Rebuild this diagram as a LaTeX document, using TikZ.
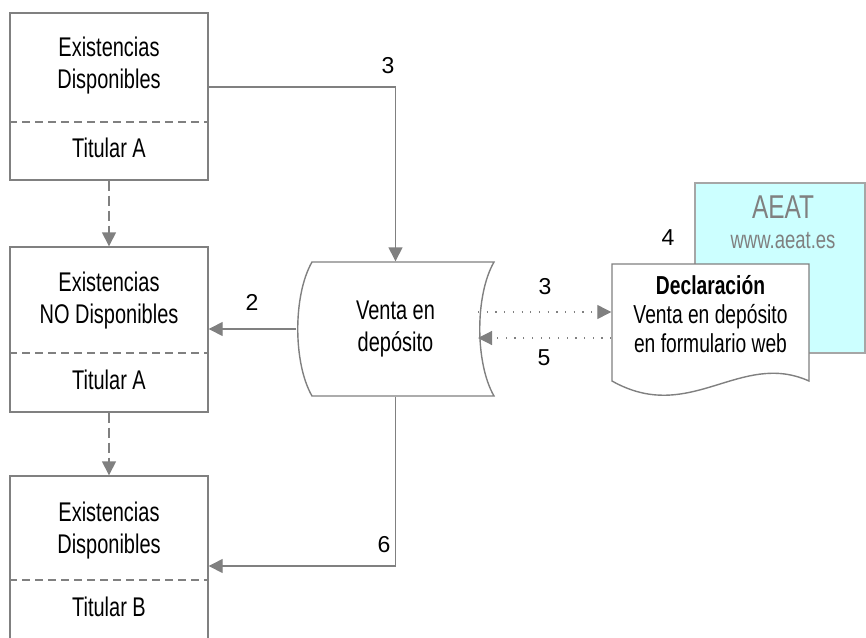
\documentclass[tikz,border=0pt]{standalone}
\usepackage{fontspec}
\setmainfont{Liberation Sans}[FakeStretch=0.74]
\newfontfamily\numfont{Liberation Sans}
\usetikzlibrary{arrows.meta}
\definecolor{linegray}{HTML}{808080}
\definecolor{aeatgray}{HTML}{A6A6A6}
\definecolor{aeatcyan}{HTML}{CCFFFF}
\begin{document}
\begin{tikzpicture}[x=1pt, y=-1pt, font={\fontsize{27}{32}\selectfont},
    color=linegray, text=black, line width=1.4pt,
    >={Triangle[length=14pt,width=14pt]},
    box/.style={draw=linegray, minimum width=198pt, minimum height=167pt, inner sep=0pt},
    divider/.style={dash pattern=on 8pt off 5pt},
    flow/.style={->},
    dflow/.style={->, dash pattern=on 10pt off 5pt},
    pflow/.style={->, line width=1.2pt, dash pattern=on 1.2pt off 7.5pt},
    num/.style={font={\numfont\fontsize{23}{26}\selectfont}},
    txt/.style={align=center}]
    \useasboundingbox (0,0) rectangle (866,637);
    \clip (0,0) rectangle (866,637);

    \draw node[box] (ed1) at (109,96.5) {};
    \draw node[box, minimum height=165pt] (ed2) at (109,329.5) {};
    \draw node[box, minimum height=169pt] (ed3) at (109,560.5) {};

    \draw node[txt] (ed1t) at (109,66) {Existencias\\Disponibles};
    \draw node (ed1b) at (109,148) {Titular A};
    \draw[divider] (ed1.west |- 0,122) -- (ed1.east |- 0,122);
    \draw node[txt] (ed2t) at (109,301) {Existencias\\NO Disponibles};
    \draw node (ed2b) at (109,380) {Titular A};
    \draw[divider] (ed2.west |- 0,353) -- (ed2.east |- 0,353);
    \draw node[txt] (ed3t) at (109,531) {Existencias\\Disponibles};
    \draw node (ed3b) at (109,607) {Titular B};
    \draw[divider] (ed3.west |- 0,580) -- (ed3.east |- 0,580);

    \draw[fill=white] (312,262) -- (494,262) .. controls (475,295) and (475,363) .. (494,396)
        -- (312,396) .. controls (293,363) and (293,295) .. (312,262) -- cycle;
    \draw node[txt, minimum width=197pt, minimum height=134pt] (venta) at (395.5,329) {Venta en\\depósito};

    \draw node[draw=aeatgray, fill=aeatcyan, minimum width=170pt, minimum height=170pt] (aeat) at (780,268) {};
    \draw node[text=linegray, font={\fontsize{33}{36}\selectfont}] (aeatt) at (783,207) {AEAT};
    \draw node[text=linegray, font={\fontsize{25}{28}\selectfont}] (aeatw) at (783,241) {www.aeat.es};

    \draw[fill=white] (612,264) -- (809,264) -- (809,381) .. controls (740,350) and (690,425) .. (612,381) -- cycle;
    \draw node[txt, minimum width=197pt, font={\fontsize{26}{29}\selectfont}] (decl) at (710.5,314)
        {\textbf{Declaración}\\Venta en depósito\\en formulario web};

    \coordinate (c3) at (395.5,87);
    \coordinate (c6) at (395.5,566);
    \coordinate (v3) at (478,312);
    \coordinate (v5) at (478,338);
    \draw[flow] (ed1.east |- c3) -- (c3) -- (venta.north);
    \draw[flow] (venta.west) -- (venta.west -| ed2.east);
    \draw[flow] (venta.south) -- (c6) -- (c6 -| ed3.east);
    \draw[dflow] (ed1.south) -- (ed2.north);
    \draw[dflow] (ed2.south) -- (ed3.north);
    \draw[pflow] (v3) -- (v3 -| decl.west);
    \draw[pflow] (v5 -| decl.west) -- (v5);

    \draw node[num] (n3a) at (388,66) {3};
    \draw node[num] (n2) at (252,302) {2};
    \draw node[num] (n6) at (384,545) {6};
    \draw node[num] (n3b) at (545,287) {3};
    \draw node[num] (n5) at (544,358) {5};
    \draw node[num] (n4) at (668,238) {4};
\end{tikzpicture}
\end{document}
